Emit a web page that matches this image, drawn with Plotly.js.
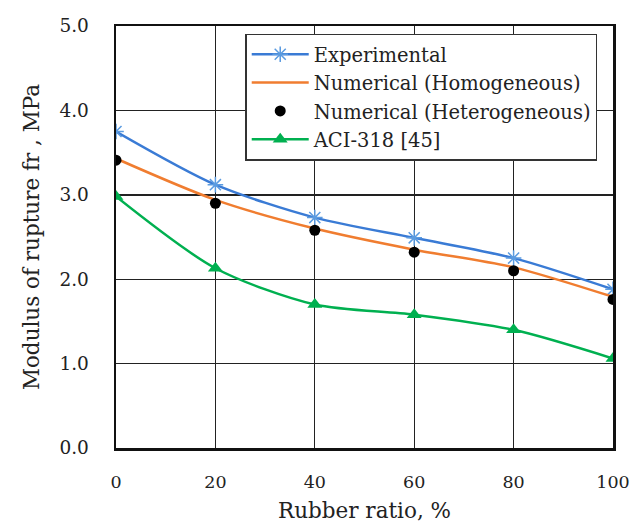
<!DOCTYPE html>
<html>
<head>
<meta charset="utf-8">
<script src="https://cdn.plot.ly/plotly-3.0.1.min.js"></script>
<style>html,body{margin:0;padding:0;background:#fff;}#chart{width:630px;height:525px;}</style>
</head>
<body>
<div id="chart"></div>
<script>
var rubberRatio = [0, 20, 40, 60, 80, 100];
var experimental = [3.75, 3.12, 2.73, 2.49, 2.25, 1.88];
var numericalHomogeneous = [3.43, 2.94, 2.60, 2.35, 2.14, 1.79];
var numericalHeterogeneous = [3.41, 2.90, 2.58, 2.32, 2.10, 1.76];
var aci318 = [2.98, 2.13, 1.70, 1.58, 1.40, 1.06];
var seriesNames = ["Experimental", "Numerical (Homogeneous)", "Numerical (Heterogeneous)", "ACI-318 [45]"];
var yTickValues = [0, 1, 2, 3, 4, 5];
var xTickValues = [0, 20, 40, 60, 80, 100];

var FONT = "DejaVu Serif, serif";
var TXT = "#222222";

var traces = [
  {
    x: rubberRatio, y: experimental, name: seriesNames[0],
    mode: "lines+markers", type: "scatter",
    line: {color: "#3A7BD5", width: 2.5, shape: "spline", smoothing: 0.8},
    marker: {symbol: "asterisk-open", size: 13, color: "#5B9BE0", line: {color: "#5B9BE0", width: 1.5}}
  },
  {
    x: rubberRatio, y: numericalHomogeneous, name: seriesNames[1],
    mode: "lines", type: "scatter",
    line: {color: "#F07D30", width: 2.5, shape: "spline", smoothing: 0.8}
  },
  {
    x: rubberRatio, y: numericalHeterogeneous, name: seriesNames[2],
    mode: "markers", type: "scatter",
    marker: {symbol: "circle", size: 11, color: "#000000"}
  },
  {
    x: rubberRatio, y: aci318, name: seriesNames[3],
    mode: "lines+markers", type: "scatter",
    line: {color: "#00B050", width: 2.5, shape: "spline", smoothing: 0.8},
    marker: {symbol: "triangle-up", size: 13, color: "#00B050"}
  }
];

var layout = {
  width: 630, height: 525,
  margin: {l: 116, r: 17, t: 26, b: 77},
  paper_bgcolor: "#ffffff", plot_bgcolor: "#ffffff",
  font: {family: FONT, size: 19.5, color: TXT},
  showlegend: true,
  legend: {
    x: 0.26, y: 0.982, xanchor: "left", yanchor: "top",
    bgcolor: "#ffffff", bordercolor: "#333333", borderwidth: 1.5,
    font: {family: FONT, size: 19.5, color: TXT},
    itemwidth: 57, tracegroupgap: 0
  },
  xaxis: {
    range: [0, 100], tickvals: xTickValues, ticktext: xTickValues.map(String),
    tickfont: {family: FONT, size: 17.5, color: TXT},
    showgrid: true, gridcolor: "#222222", gridwidth: 1.4,
    showline: true, linecolor: "#111111", linewidth: 2.5, mirror: true,
    ticks: "", zeroline: false, ticklabelstandoff: 16, ticklabeloverflow: "allow",
    title: {text: "Rubber ratio, %", font: {family: FONT, size: 21.5, color: TXT}, standoff: 13}
  },
  yaxis: {
    range: [0, 5], tickvals: yTickValues, ticktext: yTickValues.map(function(v){return v.toFixed(1);}),
    tickfont: {family: FONT, size: 18.5, color: TXT},
    showgrid: true, gridcolor: "#222222", gridwidth: 1.4,
    showline: true, linecolor: "#111111", linewidth: 2.5, mirror: true,
    ticks: "", zeroline: false, ticklabelstandoff: 21, ticklabeloverflow: "allow",
    title: {text: "Modulus of rupture fr , MPa", font: {family: FONT, size: 21.5, color: TXT}, standoff: 14}
  }
};

Plotly.newPlot("chart", traces, layout, {displayModeBar: false, staticPlot: true});
</script>
</body>
</html>
